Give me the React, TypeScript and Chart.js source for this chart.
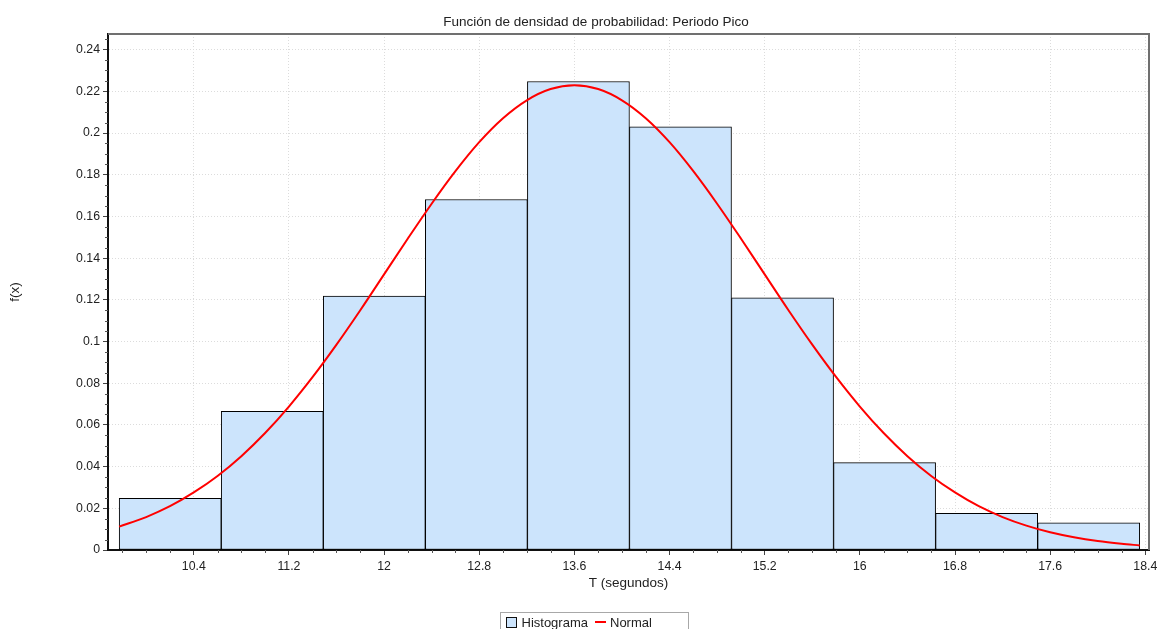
import React, { useEffect, useRef } from 'react';
import { Chart, registerables } from 'chart.js';

Chart.register(...registerables);

// ---- data ----
const titleText = 'Función de densidad de probabilidad: Periodo Pico';
const xTitle = 'T (segundos)';
const yTitle = 'f(x)';
const legendLabels = ['Histograma', 'Normal'];

// histogram bins (centres) and density heights
const binCenters = [10.202, 11.06, 11.918, 12.776, 13.634, 14.492, 15.35, 16.208, 17.066, 17.924];
const densities = [0.0248, 0.0665, 0.1218, 0.1681, 0.2247, 0.203, 0.121, 0.0419, 0.0176, 0.013];

// fitted normal curve
const normalX = [
  9.773, 10.0, 10.2, 10.4, 10.6, 10.8, 11.0, 11.2, 11.4, 11.6, 11.8, 12.0, 12.2, 12.4, 12.6,
  12.8, 13.0, 13.2, 13.4, 13.6, 13.8, 14.0, 14.2, 14.4, 14.6, 14.8, 15.0, 15.2, 15.4, 15.6,
  15.8, 16.0, 16.2, 16.4, 16.6, 16.8, 17.0, 17.2, 17.4, 17.6, 17.8, 18.0, 18.2, 18.353,
];
const normalY = [
  0.0112, 0.0158, 0.021, 0.0276, 0.0355, 0.045, 0.0561, 0.0688, 0.083, 0.0985, 0.115, 0.1322,
  0.1494, 0.1661, 0.1817, 0.1956, 0.2071, 0.2157, 0.2211, 0.2229, 0.2211, 0.2157, 0.2071,
  0.1956, 0.1817, 0.1661, 0.1494, 0.1322, 0.115, 0.0985, 0.083, 0.0688, 0.0561, 0.045, 0.0355,
  0.0276, 0.021, 0.0158, 0.0117, 0.0085, 0.0061, 0.0043, 0.003, 0.0022,
];

const xTicks = [10.4, 11.2, 12, 12.8, 13.6, 14.4, 15.2, 16, 16.8, 17.6, 18.4];
const xTickLabels = ['10.4', '11.2', '12', '12.8', '13.6', '14.4', '15.2', '16', '16.8', '17.6', '18.4'];
const yTicks = [0, 0.02, 0.04, 0.06, 0.08, 0.1, 0.12, 0.14, 0.16, 0.18, 0.2, 0.22, 0.24];
const yTickLabels = ['0', '0.02', '0.04', '0.06', '0.08', '0.1', '0.12', '0.14', '0.16', '0.18', '0.2', '0.22', '0.24'];

const X_MIN = 9.679;
const X_MAX = 18.431;
const Y_MIN = 0;
const Y_MAX = 0.2475;
const X_MINOR_STEP = 0.2;
const Y_MINOR_STEP = 0.005;

const FONT = '"Liberation Sans", Arial, Helvetica, sans-serif';
const BAR_FILL = 'rgb(204,228,252)';
const TEXT = '#222';
const TITLE_SIZE = 13.5;
const AXIS_TITLE_SIZE = 13.5;
const LEGEND_SIZE = 13;

const decorPlugin = {
  id: 'decor',
  afterDraw(chart: any) {
    const { ctx, chartArea: a, scales } = chart;
    const xs = scales.x;
    const ys = scales.y;
    ctx.save();
    // top & right frame
    ctx.strokeStyle = '#707070';
    ctx.lineWidth = 2;
    ctx.beginPath();
    ctx.moveTo(a.left, a.top);
    ctx.lineTo(a.right, a.top);
    ctx.lineTo(a.right, a.bottom);
    ctx.stroke();

    // minor ticks
    ctx.strokeStyle = '#555';
    ctx.lineWidth = 1;
    ctx.beginPath();
    for (let k = Math.ceil(X_MIN / X_MINOR_STEP); k * X_MINOR_STEP <= X_MAX; k++) {
      const v = k * X_MINOR_STEP;
      if (xTicks.some((t) => Math.abs(t - v) < 1e-6)) continue;
      const px = Math.round(xs.getPixelForValue(v)) + 0.5;
      ctx.moveTo(px, a.bottom);
      ctx.lineTo(px, a.bottom + 3);
    }
    for (let k = 0; k * Y_MINOR_STEP <= Y_MAX; k++) {
      const v = k * Y_MINOR_STEP;
      if (yTicks.some((t) => Math.abs(t - v) < 1e-6)) continue;
      const py = Math.round(ys.getPixelForValue(v)) + 0.5;
      ctx.moveTo(a.left - 3, py);
      ctx.lineTo(a.left, py);
    }
    ctx.stroke();

    // title
    ctx.fillStyle = TEXT;
    ctx.font = `${TITLE_SIZE}px ${FONT}`;
    ctx.textAlign = 'center';
    ctx.textBaseline = 'alphabetic';
    ctx.fillText(titleText, 596, 25.5);

    // legend
    ctx.strokeStyle = '#a8a8a8';
    ctx.lineWidth = 1;
    ctx.strokeRect(500.5, 612.5, 188, 30);
    ctx.fillStyle = BAR_FILL;
    ctx.fillRect(506, 617, 10, 10);
    ctx.strokeStyle = '#111';
    ctx.strokeRect(506.5, 617.5, 10, 10);
    ctx.font = `${LEGEND_SIZE}px ${FONT}`;
    ctx.fillStyle = TEXT;
    ctx.textAlign = 'left';
    ctx.fillText(legendLabels[0], 521.5, 626.5);
    ctx.strokeStyle = '#ff0000';
    ctx.lineWidth = 2;
    ctx.beginPath();
    ctx.moveTo(595, 622);
    ctx.lineTo(606, 622);
    ctx.stroke();
    ctx.fillStyle = TEXT;
    ctx.fillText(legendLabels[1], 610, 626.5);
    ctx.restore();
  },
};

export default function App() {
  const ref = useRef<HTMLCanvasElement | null>(null);

  useEffect(() => {
    if (!ref.current) return;
    Chart.defaults.font.family = FONT;
    Chart.defaults.font.size = 12;
    Chart.defaults.color = TEXT;

    const chart = new Chart(ref.current, {
      type: 'bar',
      data: {
        datasets: [
          {
            type: 'line',
            label: legendLabels[1],
            data: normalX.map((x, i) => ({ x, y: normalY[i] })),
            borderColor: '#ff0000',
            borderWidth: 2,
            pointRadius: 0,
            cubicInterpolationMode: 'monotone',
            fill: false,
            xAxisID: 'x',
            order: 0,
          } as any,
          {
            type: 'bar',
            label: legendLabels[0],
            data: binCenters.map((x, i) => ({ x, y: densities[i] })),
            backgroundColor: BAR_FILL,
            borderColor: '#000',
            borderWidth: 1,
            borderSkipped: false,
            barPercentage: 1,
            categoryPercentage: 1,
            grouped: false,
            xAxisID: 'xh',
            order: 1,
          } as any,
        ],
      },
      options: {
        animation: false,
        responsive: false,
        devicePixelRatio: 1,
        layout: { padding: { left: 0, top: 34, right: 10, bottom: 0 } },
        plugins: {
          legend: { display: false },
          title: { display: false },
          tooltip: { enabled: false },
        },
        scales: {
          x: {
            type: 'linear',
            position: 'bottom',
            offset: false,
            min: X_MIN,
            max: X_MAX,
            afterBuildTicks: (s: any) => {
              s.ticks = xTicks.map((v) => ({ value: v }));
            },
            afterFit: (s: any) => {
              s.height = 79;
              s.paddingLeft = 0;
              s.paddingRight = 0;
            },
            ticks: {
              autoSkip: false,
              maxRotation: 0,
              padding: 4,
              color: TEXT,
              font: { size: 12.3 },
              callback: (_v: any, i: number) => xTickLabels[i],
            },
            grid: {
              offset: false,
              color: '#dcdcdc',
              lineWidth: 1,
              tickLength: 5,
              tickColor: '#444',
              tickWidth: 1,
            },
            border: { display: true, color: '#111', width: 2, dash: [1, 2] },
            title: {
              display: true,
              text: xTitle,
              color: TEXT,
              font: { size: AXIS_TITLE_SIZE },
              padding: { top: 0, bottom: 37.9 },
            },
          },
          xh: {
            type: 'linear',
            display: false,
            offset: false,
            min: X_MIN,
            max: X_MAX,
            grid: { offset: false },
            afterBuildTicks: (s: any) => {
              s.ticks = [];
            },
          },
          y: {
            type: 'linear',
            position: 'left',
            min: Y_MIN,
            max: Y_MAX,
            afterBuildTicks: (s: any) => {
              s.ticks = yTicks.map((v) => ({ value: v }));
            },
            afterFit: (s: any) => {
              s.width = 108;
              s.paddingTop = 0;
              s.paddingBottom = 0;
            },
            ticks: {
              autoSkip: false,
              padding: 3,
              color: TEXT,
              font: { size: 12.3 },
              callback: (_v: any, i: number) => yTickLabels[i],
            },
            grid: {
              color: '#dcdcdc',
              lineWidth: 1,
              tickLength: 5,
              tickColor: '#444',
              tickWidth: 1,
            },
            border: { display: true, color: '#111', width: 2, dash: [1, 2] },
            title: {
              display: true,
              text: yTitle,
              color: TEXT,
              font: { size: AXIS_TITLE_SIZE },
              padding: { top: 6.9, bottom: 0 },
            },
          },
        },
      } as any,
      plugins: [decorPlugin],
    });
    return () => chart.destroy();
  }, []);

  return (
    <div style={{ position: 'fixed', left: 0, top: 0, width: 1159, height: 629, background: '#fff' }}>
      <canvas ref={ref} width={1159} height={629} style={{ display: 'block' }} />
    </div>
  );
}
